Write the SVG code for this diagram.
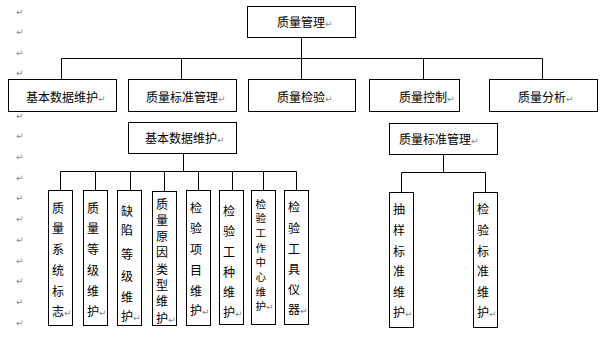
<svg xmlns="http://www.w3.org/2000/svg" width="613" height="340" viewBox="0 0 613 340">
<style>
.b{fill:#fff;stroke:#000;stroke-width:1}
.c{fill:none;stroke:#000;stroke-width:1}
.t{font-family:"Noto Sans CJK SC","Noto Sans",sans-serif;font-size:12px;fill:#000}
.s{font-size:10.5px}
.m{font-family:"DejaVu Sans",sans-serif;font-size:9px;fill:#888}
</style>
<rect width="613" height="340" fill="#fff"/>
<g id="margin-marks" class="m">
<text x="16" y="15">↵</text><text x="16" y="35">↵</text><text x="16" y="56">↵</text><text x="16" y="76">↵</text>
<text x="16" y="119">↵</text><text x="16" y="139">↵</text><text x="16" y="160">↵</text><text x="16" y="181">↵</text>
<text x="16" y="201">↵</text><text x="16" y="222">↵</text><text x="16" y="243">↵</text><text x="16" y="264">↵</text>
<text x="16" y="284">↵</text><text x="16" y="305">↵</text><text x="16" y="326">↵</text>
</g>
<g id="connectors" class="c">
<path d="M301.5,37.5V58.5M61.5,58.5H542.5M61.5,58.5V79.5M181.5,58.5V79.5M301.5,58.5V79.5M423.5,58.5V79.5M542.5,58.5V79.5"/>
<path d="M183.5,153.5V171.5M60.5,171.5H296.5M60.5,171.5V190.5M95.5,171.5V190.5M130.5,171.5V190.5M164.5,171.5V191.5M198.5,171.5V190.5M232.5,171.5V190.5M263.5,171.5V190.5M296.5,171.5V190.5"/>
<path d="M443.5,154.5V172.5M401.5,172.5H485.5M401.5,172.5V192.5M485.5,172.5V192.5"/>
</g>
<g id="n-root"><rect class="b" x="247.5" y="6.5" width="108" height="31"/><text class="t" x="277" y="26.5">质量管理<tspan class="m">↵</tspan></text></g>
<g id="n-jbsj"><rect class="b" x="8.5" y="79.5" width="108" height="32"/><text class="t" x="26" y="101.5">基本数据维护<tspan class="m">↵</tspan></text></g>
<g id="n-zlbz"><rect class="b" x="128.5" y="79.5" width="108" height="32"/><text class="t" x="146" y="101.5">质量标准管理<tspan class="m">↵</tspan></text></g>
<g id="n-zljy"><rect class="b" x="248.5" y="79.5" width="107" height="32"/><text class="t" x="277" y="101.5">质量检验<tspan class="m">↵</tspan></text></g>
<g id="n-zlkz"><rect class="b" x="369.5" y="79.5" width="90" height="32"/><text class="t" x="399" y="101.5">质量控制<tspan class="m">↵</tspan></text></g>
<g id="n-zlfx"><rect class="b" x="489.5" y="79.5" width="108" height="32"/><text class="t" x="518" y="101.5">质量分析<tspan class="m">↵</tspan></text></g>
<g id="n-jbsj2"><rect class="b" x="128.5" y="122.5" width="108" height="31"/><text class="t" x="145" y="142.5">基本数据维护<tspan class="m">↵</tspan></text></g>
<g id="n-zlbz2"><rect class="b" x="389.5" y="123.5" width="108" height="31"/><text class="t" x="399" y="143.5">质量标准管理<tspan class="m">↵</tspan></text></g>
<g id="n-a"><rect class="b" x="48.5" y="190.5" width="24" height="135"/><text class="t"><tspan x="52" y="212.5">质</tspan><tspan x="52" y="232.5">量</tspan><tspan x="52" y="253.5">系</tspan><tspan x="52" y="274.5">统</tspan><tspan x="52" y="295.5">标</tspan><tspan x="52" y="315.5">志</tspan><tspan class="m">↵</tspan></text></g>
<g id="n-b"><rect class="b" x="83.5" y="190.5" width="24" height="135"/><text class="t"><tspan x="87" y="212.5">质</tspan><tspan x="87" y="232.5">量</tspan><tspan x="87" y="253.5">等</tspan><tspan x="87" y="274.5">级</tspan><tspan x="87" y="295.5">维</tspan><tspan x="87" y="315.5">护</tspan><tspan class="m">↵</tspan></text></g>
<g id="n-c"><rect class="b" x="117.5" y="190.5" width="24" height="135"/><text class="t"><tspan x="121" y="215.5">缺</tspan><tspan x="121" y="234.5">陷</tspan><tspan x="121" y="258.5">等</tspan><tspan x="121" y="280.5">级</tspan><tspan x="121" y="301.5">维</tspan><tspan x="121" y="320.5">护</tspan><tspan class="m">↵</tspan></text></g>
<g id="n-d"><rect class="b" x="152.5" y="191.5" width="24" height="134"/><text class="t"><tspan x="156" y="208.5">质</tspan><tspan x="156" y="224.8">量</tspan><tspan x="156" y="241.1">原</tspan><tspan x="156" y="257.4">因</tspan><tspan x="156" y="273.7">类</tspan><tspan x="156" y="290">型</tspan><tspan x="156" y="306.3">维</tspan><tspan x="156" y="322.6">护</tspan><tspan class="m">↵</tspan></text></g>
<g id="n-e"><rect class="b" x="186.5" y="190.5" width="24" height="135"/><text class="t"><tspan x="190" y="212.5">检</tspan><tspan x="190" y="232.5">验</tspan><tspan x="190" y="253.5">项</tspan><tspan x="190" y="274.5">目</tspan><tspan x="190" y="295.5">维</tspan><tspan x="190" y="314.5">护</tspan><tspan class="m">↵</tspan></text></g>
<g id="n-f"><rect class="b" x="219.5" y="190.5" width="24" height="134"/><text class="t"><tspan x="223" y="215.5">检</tspan><tspan x="223" y="235.5">验</tspan><tspan x="223" y="256.5">工</tspan><tspan x="223" y="276.5">种</tspan><tspan x="223" y="296.5">维</tspan><tspan x="223" y="316.5">护</tspan><tspan class="m">↵</tspan></text></g>
<g id="n-g"><rect class="b" x="251.5" y="190.5" width="24" height="134"/><text class="t s"><tspan x="255.5" y="207.5">检</tspan><tspan x="255.5" y="222.2">验</tspan><tspan x="255.5" y="236.9">工</tspan><tspan x="255.5" y="251.6">作</tspan><tspan x="255.5" y="266.3">中</tspan><tspan x="255.5" y="281">心</tspan><tspan x="255.5" y="295.7">维</tspan><tspan x="255.5" y="310.4">护</tspan><tspan class="m">↵</tspan></text></g>
<g id="n-h"><rect class="b" x="284.5" y="190.5" width="24" height="134"/><text class="t"><tspan x="288" y="211.5">检</tspan><tspan x="288" y="232.5">验</tspan><tspan x="288" y="253.5">工</tspan><tspan x="288" y="273.5">具</tspan><tspan x="288" y="293.5">仪</tspan><tspan x="288" y="313.5">器</tspan><tspan class="m">↵</tspan></text></g>
<g id="n-cy"><rect class="b" x="389.5" y="192.5" width="24" height="135"/><text class="t"><tspan x="393" y="213.5">抽</tspan><tspan x="393" y="234.5">样</tspan><tspan x="393" y="255.5">标</tspan><tspan x="393" y="275.5">准</tspan><tspan x="393" y="296.5">维</tspan><tspan x="393" y="316.5">护</tspan><tspan class="m">↵</tspan></text></g>
<g id="n-jy"><rect class="b" x="473.5" y="192.5" width="24" height="135"/><text class="t"><tspan x="477" y="213.5">检</tspan><tspan x="477" y="234.5">验</tspan><tspan x="477" y="255.5">标</tspan><tspan x="477" y="275.5">准</tspan><tspan x="477" y="296.5">维</tspan><tspan x="477" y="316.5">护</tspan><tspan class="m">↵</tspan></text></g>
</svg>
